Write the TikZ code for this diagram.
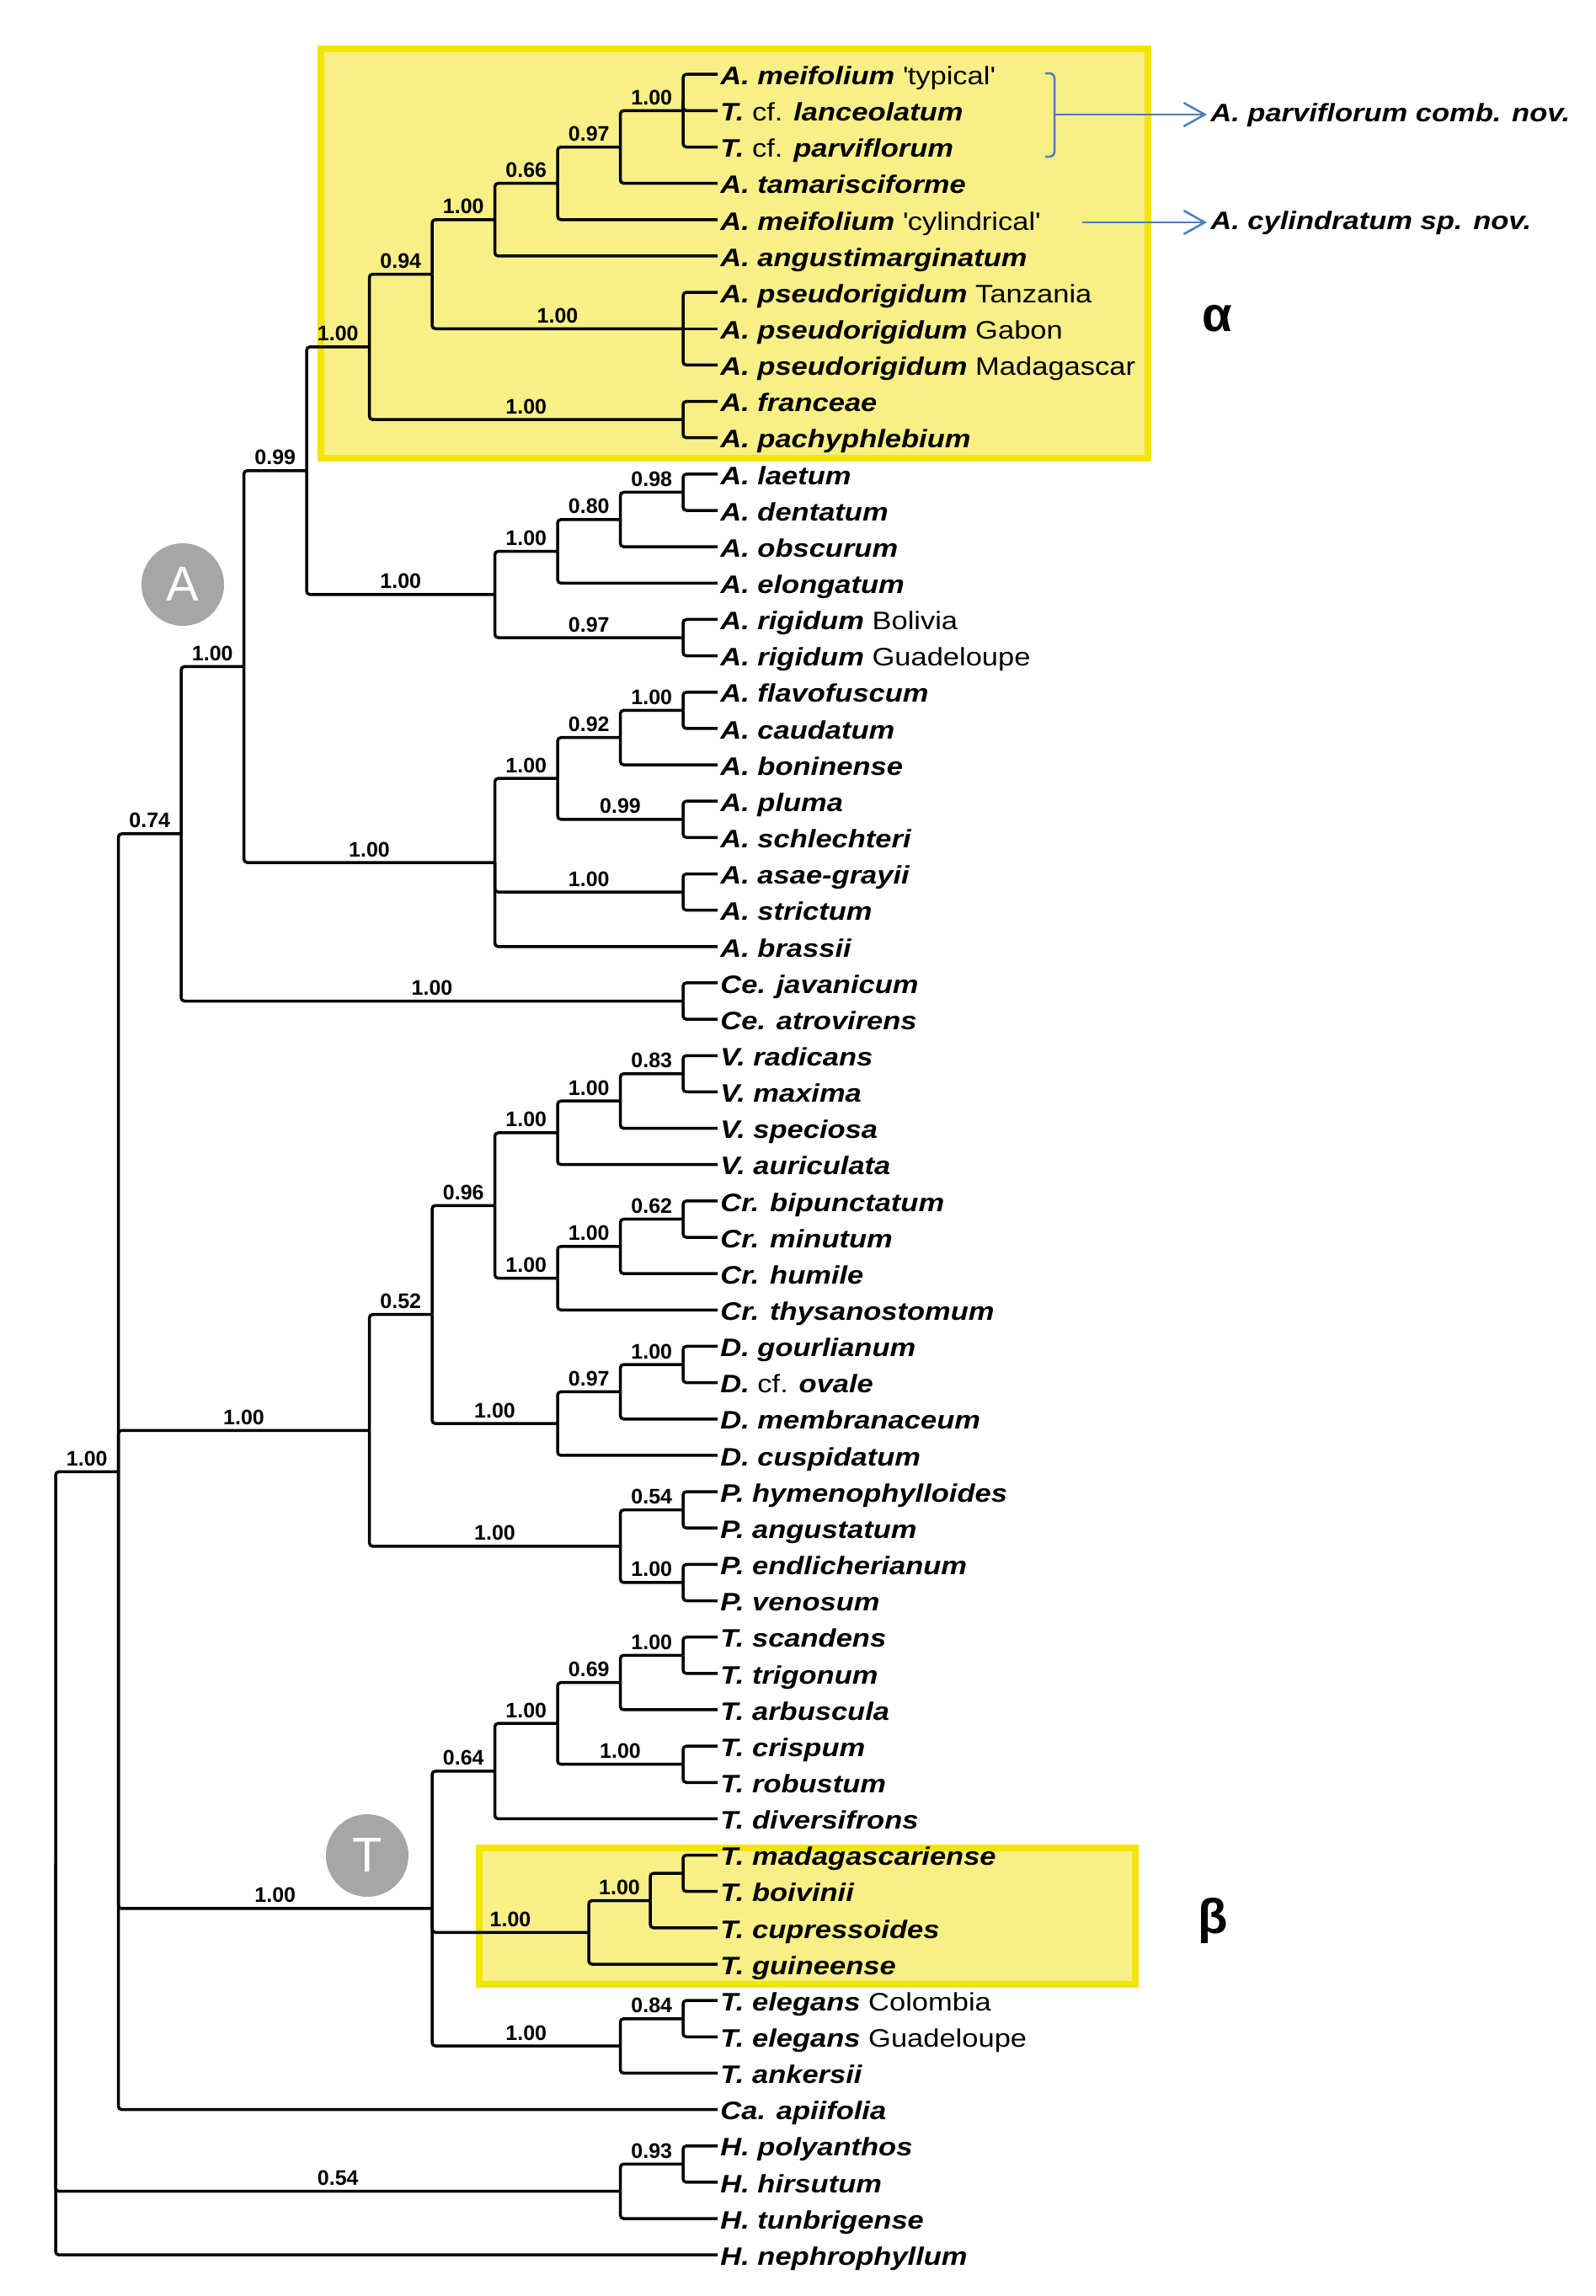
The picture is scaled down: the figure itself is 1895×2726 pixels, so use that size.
\documentclass[tikz,border=0pt]{standalone}
\usepackage{fontspec}
\setmainfont{Liberation Sans}
\newfontfamily\leaffont[FakeStretch=1.15]{Liberation Sans}
\usetikzlibrary{arrows.meta}
\definecolor{boxfill}{RGB}{248,239,135}
\definecolor{boxedge}{RGB}{242,230,0}
\definecolor{arrowblue}{RGB}{74,126,187}
\definecolor{circgray}{RGB}{166,166,166}
\newcommand\ru[1]{{\upshape\mdseries #1}}
\begin{document}
\begin{tikzpicture}[x=0.5pt,y=-0.5pt,
  branch/.style={line width=1.75pt, rounded corners=2pt},
  lab/.style={font=\fontsize{12.5}{14}\selectfont\bfseries, anchor=base, yshift=3.5pt, inner sep=0pt},
  leaf/.style={anchor=west, inner sep=0pt, xshift=1.5pt, text height=12.2pt, text depth=0pt,
    font=\leaffont\fontsize{15}{18}\selectfont\bfseries\itshape},
  anno/.style={anchor=west, inner sep=0pt, text height=8.6pt, text depth=0pt,
    font=\leaffont\fontsize{15}{18}\selectfont\bfseries\itshape},
  cladebox/.style={draw=boxedge, fill=boxfill, line width=3.75pt},
  circ/.style={circle, fill=circgray, minimum size=49pt, inner sep=0pt, text=white,
    font=\fontsize{29}{30}\selectfont},
  greek/.style={inner sep=0pt, font=\fontsize{29}{30}\selectfont\bfseries},
  bl/.style={draw=arrowblue, line width=1.25pt},
  arr/.style={bl, -{Straight Barb[length=12.5pt, width=14pt]}, shorten >=2pt}]
\useasboundingbox (0,0) rectangle (1895,2726);
\fill[white] (0,0) rectangle (1895,2726);
% clade boxes
\draw[cladebox] (381,58) rectangle (1363,544);
\draw[cladebox] (569,2194) rectangle (1348,2356);
\begin{scope}[y=-21.575pt, yshift=-22.525pt]
\foreach \i in {1,...,61} \coordinate (l\i) at (852,\i);
\coordinate (n1) at (811,2);
\coordinate (n2) at (736.5,3);
\coordinate (n3) at (662,4);
\coordinate (n4) at (587.5,5);
\coordinate (n5) at (513,6.5);
\coordinate (n6) at (811,8);
\coordinate (n7) at (811,10.5);
\coordinate (n8) at (438.5,8.5);
\coordinate (n9) at (364,11.90625);
\coordinate (n10) at (811,12.5);
\coordinate (n11) at (736.5,13.25);
\coordinate (n12) at (662,14.125);
\coordinate (n13) at (811,16.5);
\coordinate (n14) at (587.5,15.3125);
\coordinate (n15) at (811,18.5);
\coordinate (n16) at (736.5,19.25);
\coordinate (n17) at (811,21.5);
\coordinate (n18) at (662,20.375);
\coordinate (n19) at (811,23.5);
\coordinate (n20) at (587.5,22.6875);
\coordinate (nA) at (289.5,17.296875);
\coordinate (nCe) at (811,26.5);
\coordinate (n21) at (215,21.8984);
\coordinate (v1) at (811,28.5);
\coordinate (v2) at (736.5,29.25);
\coordinate (v3) at (662,30.125);
\coordinate (c1) at (811,32.5);
\coordinate (c2) at (736.5,33.25);
\coordinate (c3) at (662,34.125);
\coordinate (v4) at (587.5,32.125);
\coordinate (d1) at (811,36.5);
\coordinate (d2) at (736.5,37.25);
\coordinate (d3) at (662,38.125);
\coordinate (v5) at (513,35.125);
\coordinate (p1) at (811,40.5);
\coordinate (p2) at (811,42.5);
\coordinate (p3) at (736.5,41.5);
\coordinate (v6) at (438.5,38.3125);
\coordinate (s1) at (811,44.5);
\coordinate (s2) at (736.5,45.25);
\coordinate (s3) at (811,47.5);
\coordinate (s4) at (662,46.375);
\coordinate (s5) at (587.5,47.6875);
\coordinate (b3) at (811,50.5);
\coordinate (b2) at (772,51.25);
\coordinate (b1) at (699,52.125);
\coordinate (e1) at (811,54.5);
\coordinate (e2) at (736.5,55.25);
\coordinate (tT) at (513,51.46875);
\coordinate (nI) at (140.5,39.4492);
\coordinate (h1) at (811,58.5);
\coordinate (h2) at (736.5,59.25);
\coordinate (root) at (66,50.2246);
% ---- branches ----
\draw[branch] (n1) |- (l1); \draw[branch] (n1) |- (l2); \draw[branch] (n1) |- (l3);
\draw[branch] (n2) |- (n1) node[lab,pos=0.75]{1.00}; \draw[branch] (n2) |- (l4);
\draw[branch] (n3) |- (n2) node[lab,pos=0.75]{0.97}; \draw[branch] (n3) |- (l5);
\draw[branch] (n4) |- (n3) node[lab,pos=0.75]{0.66}; \draw[branch] (n4) |- (l6);
\draw[branch] (n5) |- (n4) node[lab,pos=0.75]{1.00};
\draw[branch] (n5) |- (n6) node[lab,pos=0.75]{1.00};
\draw[branch] (n6) |- (l7); \draw[branch] (n6) -- (l8); \draw[branch] (n6) |- (l9);
\draw[branch] (n8) |- (n5) node[lab,pos=0.75]{0.94};
\draw[branch] (n8) |- (n7) node[lab,pos=0.75]{1.00};
\draw[branch] (n7) |- (l10); \draw[branch] (n7) |- (l11);
\draw[branch] (n9) |- (n8) node[lab,pos=0.75]{1.00};
\draw[branch] (n9) |- (n14) node[lab,pos=0.75]{1.00};
\draw[branch] (n14) |- (n12) node[lab,pos=0.75]{1.00};
\draw[branch] (n14) |- (n13) node[lab,pos=0.75]{0.97};
\draw[branch] (n12) |- (n11) node[lab,pos=0.75]{0.80}; \draw[branch] (n12) |- (l15);
\draw[branch] (n11) |- (n10) node[lab,pos=0.75]{0.98}; \draw[branch] (n11) |- (l14);
\draw[branch] (n10) |- (l12); \draw[branch] (n10) |- (l13);
\draw[branch] (n13) |- (l16); \draw[branch] (n13) |- (l17);
\draw[branch] (nA) |- (n9) node[lab,pos=0.75]{0.99};
\draw[branch] (nA) |- (n20) node[lab,pos=0.75]{1.00};
\draw[branch] (n20) |- (n18) node[lab,pos=0.75]{1.00};
\draw[branch] (n20) |- (n19) node[lab,pos=0.75]{1.00};
\draw[branch] (n20) |- (l25);
\draw[branch] (n18) |- (n16) node[lab,pos=0.75]{0.92};
\draw[branch] (n18) |- (n17) node[lab,pos=0.75]{0.99};
\draw[branch] (n16) |- (n15) node[lab,pos=0.75]{1.00}; \draw[branch] (n16) |- (l20);
\draw[branch] (n15) |- (l18); \draw[branch] (n15) |- (l19);
\draw[branch] (n17) |- (l21); \draw[branch] (n17) |- (l22);
\draw[branch] (n19) |- (l23); \draw[branch] (n19) |- (l24);
\draw[branch] (n21) |- (nA) node[lab,pos=0.75]{1.00};
\draw[branch] (n21) |- (nCe) node[lab,pos=0.75]{1.00};
\draw[branch] (nCe) |- (l26); \draw[branch] (nCe) |- (l27);
\draw[branch] (nI) |- (n21) node[lab,pos=0.75]{0.74};
\draw[branch] (nI) |- (v6) node[lab,pos=0.75]{1.00};
\draw[branch] (nI) |- (tT) node[lab,pos=0.75]{1.00};
\draw[branch] (nI) |- (l57);
\draw[branch] (v6) |- (v5) node[lab,pos=0.75]{0.52};
\draw[branch] (v6) |- (p3) node[lab,pos=0.75]{1.00};
\draw[branch] (v5) |- (v4) node[lab,pos=0.75]{0.96};
\draw[branch] (v5) |- (d3) node[lab,pos=0.75]{1.00};
\draw[branch] (v4) |- (v3) node[lab,pos=0.75]{1.00};
\draw[branch] (v4) |- (c3) node[lab,pos=0.75]{1.00};
\draw[branch] (v3) |- (v2) node[lab,pos=0.75]{1.00}; \draw[branch] (v3) |- (l31);
\draw[branch] (v2) |- (v1) node[lab,pos=0.75]{0.83}; \draw[branch] (v2) |- (l30);
\draw[branch] (v1) |- (l28); \draw[branch] (v1) |- (l29);
\draw[branch] (c3) |- (c2) node[lab,pos=0.75]{1.00}; \draw[branch] (c3) |- (l35);
\draw[branch] (c2) |- (c1) node[lab,pos=0.75]{0.62}; \draw[branch] (c2) |- (l34);
\draw[branch] (c1) |- (l32); \draw[branch] (c1) |- (l33);
\draw[branch] (d3) |- (d2) node[lab,pos=0.75]{0.97}; \draw[branch] (d3) |- (l39);
\draw[branch] (d2) |- (d1) node[lab,pos=0.75]{1.00}; \draw[branch] (d2) |- (l38);
\draw[branch] (d1) |- (l36); \draw[branch] (d1) |- (l37);
\draw[branch] (p3) |- (p1) node[lab,pos=0.75]{0.54};
\draw[branch] (p3) |- (p2) node[lab,pos=0.75]{1.00};
\draw[branch] (p1) |- (l40); \draw[branch] (p1) |- (l41);
\draw[branch] (p2) |- (l42); \draw[branch] (p2) |- (l43);
\draw[branch] (tT) |- (s5) node[lab,pos=0.75]{0.64};
\draw[branch] (tT) |- (b1) node[lab,pos=0.75]{1.00};
\draw[branch] (tT) |- (e2) node[lab,pos=0.75]{1.00};
\draw[branch] (s5) |- (s4) node[lab,pos=0.75]{1.00}; \draw[branch] (s5) |- (l49);
\draw[branch] (s4) |- (s2) node[lab,pos=0.75]{0.69};
\draw[branch] (s4) |- (s3) node[lab,pos=0.75]{1.00};
\draw[branch] (s2) |- (s1) node[lab,pos=0.75]{1.00}; \draw[branch] (s2) |- (l46);
\draw[branch] (s1) |- (l44); \draw[branch] (s1) |- (l45);
\draw[branch] (s3) |- (l47); \draw[branch] (s3) |- (l48);
\draw[branch] (b1) |- (b2) node[lab,pos=0.75]{1.00}; \draw[branch] (b1) |- (l53);
\draw[branch] (b2) |- (b3); \draw[branch] (b2) |- (l52);
\draw[branch] (b3) |- (l50); \draw[branch] (b3) |- (l51);
\draw[branch] (e2) |- (e1) node[lab,pos=0.75]{0.84}; \draw[branch] (e2) |- (l56);
\draw[branch] (e1) |- (l54); \draw[branch] (e1) |- (l55);
\draw[branch] (h2) |- (h1) node[lab,pos=0.75]{0.93}; \draw[branch] (h2) |- (l60);
\draw[branch] (h1) |- (l58); \draw[branch] (h1) |- (l59);
\draw[branch] (root) |- (nI) node[lab,pos=0.75]{1.00};
\draw[branch] (root) |- (h2) node[lab,pos=0.75]{0.54};
\draw[branch] (root) |- (l61);
\end{scope}
% ---- leaf labels ----
\node[leaf] (t1) at (l1) {A. meifolium \ru{\textquotesingle typical\textquotesingle}};
\node[leaf] (t2) at (l2) {T. \ru{cf.} lanceolatum};
\node[leaf] (t3) at (l3) {T. \ru{cf.} parviflorum};
\node[leaf] (t4) at (l4) {A. tamarisciforme};
\node[leaf] (t5) at (l5) {A. meifolium \ru{\textquotesingle cylindrical\textquotesingle}};
\node[leaf] (t6) at (l6) {A. angustimarginatum};
\node[leaf] (t7) at (l7) {A. pseudorigidum \ru{Tanzania}};
\node[leaf] (t8) at (l8) {A. pseudorigidum \ru{Gabon}};
\node[leaf] (t9) at (l9) {A. pseudorigidum \ru{Madagascar}};
\node[leaf] (t10) at (l10) {A. franceae};
\node[leaf] (t11) at (l11) {A. pachyphlebium};
\node[leaf] (t12) at (l12) {A. laetum};
\node[leaf] (t13) at (l13) {A. dentatum};
\node[leaf] (t14) at (l14) {A. obscurum};
\node[leaf] (t15) at (l15) {A. elongatum};
\node[leaf] (t16) at (l16) {A. rigidum \ru{Bolivia}};
\node[leaf] (t17) at (l17) {A. rigidum \ru{Guadeloupe}};
\node[leaf] (t18) at (l18) {A. flavofuscum};
\node[leaf] (t19) at (l19) {A. caudatum};
\node[leaf] (t20) at (l20) {A. boninense};
\node[leaf] (t21) at (l21) {A. pluma};
\node[leaf] (t22) at (l22) {A. schlechteri};
\node[leaf] (t23) at (l23) {A. asae-grayii};
\node[leaf] (t24) at (l24) {A. strictum};
\node[leaf] (t25) at (l25) {A. brassii};
\node[leaf] (t26) at (l26) {Ce. javanicum};
\node[leaf] (t27) at (l27) {Ce. atrovirens};
\node[leaf] (t28) at (l28) {V. radicans};
\node[leaf] (t29) at (l29) {V. maxima};
\node[leaf] (t30) at (l30) {V. speciosa};
\node[leaf] (t31) at (l31) {V. auriculata};
\node[leaf] (t32) at (l32) {Cr. bipunctatum};
\node[leaf] (t33) at (l33) {Cr. minutum};
\node[leaf] (t34) at (l34) {Cr. humile};
\node[leaf] (t35) at (l35) {Cr. thysanostomum};
\node[leaf] (t36) at (l36) {D. gourlianum};
\node[leaf] (t37) at (l37) {D. \ru{cf.} ovale};
\node[leaf] (t38) at (l38) {D. membranaceum};
\node[leaf] (t39) at (l39) {D. cuspidatum};
\node[leaf] (t40) at (l40) {P. hymenophylloides};
\node[leaf] (t41) at (l41) {P. angustatum};
\node[leaf] (t42) at (l42) {P. endlicherianum};
\node[leaf] (t43) at (l43) {P. venosum};
\node[leaf] (t44) at (l44) {T. scandens};
\node[leaf] (t45) at (l45) {T. trigonum};
\node[leaf] (t46) at (l46) {T. arbuscula};
\node[leaf] (t47) at (l47) {T. crispum};
\node[leaf] (t48) at (l48) {T. robustum};
\node[leaf] (t49) at (l49) {T. diversifrons};
\node[leaf] (t50) at (l50) {T. madagascariense};
\node[leaf] (t51) at (l51) {T. boivinii};
\node[leaf] (t52) at (l52) {T. cupressoides};
\node[leaf] (t53) at (l53) {T. guineense};
\node[leaf] (t54) at (l54) {T. elegans \ru{Colombia}};
\node[leaf] (t55) at (l55) {T. elegans \ru{Guadeloupe}};
\node[leaf] (t56) at (l56) {T. ankersii};
\node[leaf] (t57) at (l57) {Ca. apiifolia};
\node[leaf] (t58) at (l58) {H. polyanthos};
\node[leaf] (t59) at (l59) {H. hirsutum};
\node[leaf] (t60) at (l60) {H. tunbrigense};
\node[leaf] (t61) at (l61) {H. nephrophyllum};
% ---- clade markers ----
\node[circ] (cA) at (217,694) {A};
\node[circ] (cT) at (436,2203) {T};
\node[greek] (alpha) at (1445,378) {α};
\node[greek] (beta) at (1440,2280) {β};
% ---- blue bracket and arrows ----
\draw[bl, rounded corners=3pt] (1241,87) -- (1252,87) -- (1252,136);
\draw[bl, rounded corners=3pt] (1241,186) -- (1252,186) -- (1252,136);
\coordinate (br) at (1252,136);
\coordinate (cy) at (1285,264);
\node[anno] (np) at (1437,136) {A. parviflorum comb. nov.};
\node[anno] (nc) at (1437,264) {A. cylindratum sp. nov.};
\draw[arr] (br) -- (np.west);
\draw[arr] (cy) -- (nc.west);
\end{tikzpicture}
\end{document}
